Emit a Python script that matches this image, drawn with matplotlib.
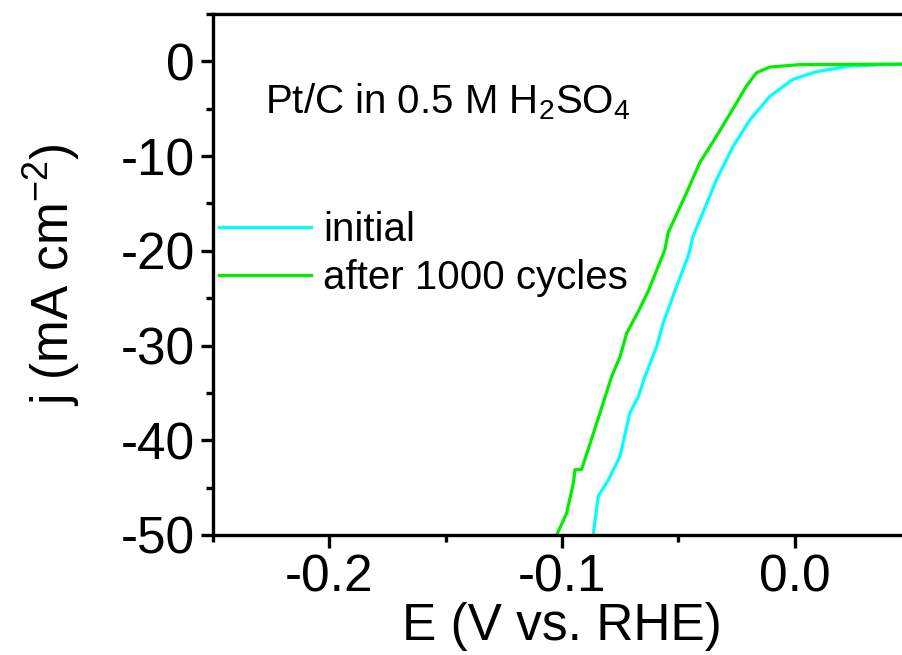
import numpy as np
import matplotlib
matplotlib.use("Agg")
import matplotlib.pyplot as plt
from matplotlib.ticker import MultipleLocator

plt.rcParams['font.family'] = ['Liberation Sans', 'DejaVu Sans']
plt.rcParams['mathtext.default'] = 'regular'
plt.rcParams['axes.unicode_minus'] = False

# LSV curves: E (V vs. RHE), j (mA cm-2)
E_initial = [-0.0866, -0.0844, -0.0801, -0.0751, -0.0708, -0.0672, -0.0644,
             -0.0593, -0.0565, -0.0508, -0.0458, -0.0437, -0.0336, -0.0265,
             -0.0193, -0.0107, -0.0007, 0.0093, 0.0236, 0.038, 0.05]
j_initial = [-50.0, -45.9, -44.2, -41.7, -37.1, -35.4, -33.3,
             -30.1, -27.6, -23.8, -20.6, -18.5, -12.5, -9.0,
             -6.2, -3.7, -1.9, -1.1, -0.5, -0.35, -0.3]

E_cycled = [-0.1023, -0.098, -0.0951, -0.0944, -0.0916, -0.0851, -0.0787,
            -0.0751, -0.0722, -0.0672, -0.063, -0.0558, -0.0544, -0.0465,
            -0.0408, -0.0336, -0.0272, -0.0207, -0.0164, -0.0107, 0.002,
            0.05]
j_cycled = [-50.0, -47.7, -44.5, -43.1, -43.1, -38.2, -33.3,
            -31.2, -28.7, -26.4, -24.3, -19.9, -18.1, -13.9,
            -10.7, -7.9, -5.3, -2.6, -1.2, -0.6, -0.35,
            -0.28]

fig = plt.figure(figsize=(9.02, 6.55), dpi=100)
ax = fig.add_axes([213/902, 120/655, (911-213)/902, (535-14)/655])

ax.plot(E_initial, j_initial, color='#00FFFF', lw=2.3, label='initial')
ax.plot(E_cycled, j_cycled, color='#00EE00', lw=2.3, label='after 1000 cycles')

ax.set_xlim(-0.25, 0.05)
ax.set_ylim(-50, 5)
ax.xaxis.set_major_locator(MultipleLocator(0.1))
ax.xaxis.set_minor_locator(MultipleLocator(0.05))
ax.yaxis.set_major_locator(MultipleLocator(10))
ax.yaxis.set_minor_locator(MultipleLocator(5))
ax.xaxis.set_major_formatter(plt.FuncFormatter(lambda v, p: '%.1f' % v if abs(v) > 1e-9 else '0.0'))

for s in ax.spines.values():
    s.set_linewidth(2.4)
ax.tick_params(which='major', direction='out', length=9, width=2.4,
               labelsize=37, pad=4)
ax.tick_params(which='minor', direction='out', length=5, width=2.4)

ax.set_xlabel('E (V vs. RHE)', fontsize=37, labelpad=0)
ax.set_ylabel('j (mA cm$^{-2}$)', fontsize=37, labelpad=28)

ax.text(265, 655-113, 'Pt/C in 0.5 M H$_2$SO$_4$', fontsize=29,
        transform=None, va='baseline', ha='left')

ax.legend(loc='upper left', bbox_to_anchor=(0.008, 0.622), frameon=False,
          fontsize=29, handlelength=2.3, handletextpad=0.3,
          borderpad=0, borderaxespad=0, labelspacing=0.25)

fig.savefig('out.png', dpi=100)
